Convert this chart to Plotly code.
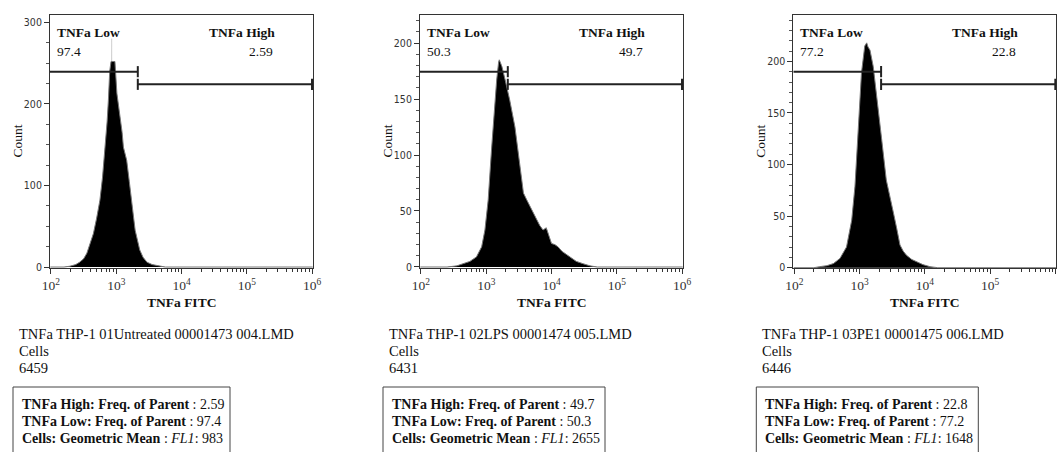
import numpy as np
import plotly.graph_objects as go

# ---------------- data ----------------
samples = ["TNFa THP-1 01Untreated 00001473 004.LMD",
           "TNFa THP-1 02LPS 00001474 005.LMD",
           "TNFa THP-1 03PE1 00001475 006.LMD"]
cell_counts = [6459, 6431, 6446]
tnfa_low = [97.4, 50.3, 77.2]
tnfa_high = [2.59, 49.7, 22.8]
geo_mean = [983, 2655, 1648]
gate_split = 2140          # TNFa Low / High boundary (FITC)
gate_max = 1.0e6

# histogram outlines: log10(FITC) positions and counts
logs1 = [1.99, 2.20, 2.29, 2.38, 2.44, 2.50, 2.55, 2.60, 2.65, 2.70, 2.75, 2.79, 2.83, 2.86,
         2.88, 2.90, 2.92, 2.95, 2.98, 3.01, 3.04, 3.06, 3.09, 3.11, 3.14, 3.16, 3.20, 3.24,
         3.27, 3.29, 3.33, 3.36, 3.41, 3.47, 3.55, 3.67, 3.75, 6.01]
counts1 = [0, 0, 1, 3, 6, 10, 17, 28, 41, 60, 82, 110, 147, 178,
           205, 240, 252, 252, 252, 213, 195, 188, 165, 147, 138, 131, 105, 74,
           58, 45, 30, 21, 12, 6, 3, 1, 0, 0]
spike1_logs = [2.905, 2.93, 2.955]
spike1_counts = [0, 280, 0]

logs2 = [1.99, 2.40, 2.55, 2.65, 2.75, 2.85, 2.93, 2.98, 3.03, 3.08, 3.12, 3.16, 3.19, 3.20,
         3.22, 3.24, 3.29, 3.36, 3.44, 3.49, 3.53, 3.57, 3.62, 3.67, 3.72, 3.77, 3.82, 3.87,
         3.92, 3.96, 4.00, 4.05, 4.10, 4.16, 4.23, 4.30, 4.38, 4.48, 4.59, 4.70, 6.01]
counts2 = [0, 0, 1, 3, 5, 9, 18, 33, 60, 104, 140, 167, 183, 185,
           182, 179, 167, 149, 125, 102, 82, 66, 60, 54, 48, 42, 37, 33,
           35, 28, 21, 20, 18, 14, 11, 8, 5, 3, 1, 0, 0]

logs3 = [1.99, 2.30, 2.39, 2.50, 2.60, 2.70, 2.80, 2.88, 2.93, 2.98, 3.03, 3.08, 3.11, 3.13,
         3.16, 3.21, 3.26, 3.34, 3.41, 3.47, 3.52, 3.57, 3.62, 3.67, 3.72, 3.80, 3.87, 3.97,
         4.08, 4.20, 6.01]
counts3 = [0, 0, 1, 2, 4, 9, 20, 46, 79, 131, 189, 215, 218, 214,
           211, 195, 169, 124, 85, 66, 53, 38, 22, 16, 12, 8, 6, 3,
           1, 0, 0]

y_ranges = [[-1.2, 309], [-0.9, 225], [-0.3, 245]]
y_dticks = [100, 50, 50]
y_minor = [25, 10, 10]
x_tick_vals = [1e2, 1e3, 1e4, 1e5, 1e6]
x_tick_text = ["10<sup>2</sup>", "10<sup>3</sup>", "10<sup>4</sup>", "10<sup>5</sup>", "10<sup>6</sup>"]
x_minor_vals = [k * 10 ** e for e in range(2, 6) for k in range(2, 10)]

hists = [(logs1, counts1), (logs2, counts2), (logs3, counts3)]

# ---------------- layout helpers ----------------
W, H = 1057, 452
SERIF = "Liberation Serif, Times New Roman, serif"
NARROW = "Liberation Sans Narrow, DejaVu Sans Condensed, Arial Narrow, sans-serif"
plot_left = [50, 420, 793.3]
plot_w = 263
plot_top, plot_bot = 15, 268

def px(x):
    return x / W

def py(y):
    return 1 - y / H

fig = go.Figure()
annotations = []
shapes = []

def note(x, y, text, size, xanchor="left", xref="paper", yref="paper", **kw):
    return dict(xref=xref, yref=yref, x=x, y=y, text=text, showarrow=False, xanchor=xanchor,
                yanchor="middle", font=dict(family=SERIF, size=size, color="#111111"), **kw)

for i in range(3):
    n = "" if i == 0 else str(i + 1)
    xa, ya = "x" + n, "y" + n
    lg, ct = hists[i]
    if i == 0:
        fig.add_trace(go.Scatter(x=10 ** np.array(spike1_logs), y=spike1_counts, mode="lines",
                                 fill="tozeroy", fillcolor="#c4c4c4", line=dict(color="#c4c4c4", width=0.5),
                                 xaxis=xa, yaxis=ya, showlegend=False, hoverinfo="skip"))
    fig.add_trace(go.Scatter(x=10 ** np.array(lg), y=ct, mode="lines", fill="tozeroy",
                             fillcolor="black", line=dict(color="#777777", width=1),
                             xaxis=xa, yaxis=ya, showlegend=False))

    # gates (drawn at fixed fractions of the plot height)
    y0, y1 = y_ranges[i]
    low_y = y0 + 0.776 * (y1 - y0)
    high_y = y0 + 0.726 * (y1 - y0)
    cap = 0.022 * (y1 - y0)
    gx = [10 ** 1.985, gate_split, None, gate_split, gate_split, None,
          gate_split, gate_max, None, gate_split, gate_split, None, gate_max, gate_max]
    gy = [low_y, low_y, None, low_y - cap, low_y + cap, None,
          high_y, high_y, None, high_y - cap, high_y + cap, None, high_y - cap, high_y + cap]
    fig.add_trace(go.Scatter(x=gx, y=gy, mode="lines", line=dict(color="#222222", width=2),
                             xaxis=xa, yaxis=ya, showlegend=False, hoverinfo="skip", cliponaxis=False))

    L = plot_left[i]
    fig.layout["xaxis" + n] = dict(
        type="log", range=[1.985, 6.015], domain=[px(L), px(L + plot_w)], anchor=ya, automargin=False,
        showline=True, linecolor="#333333", linewidth=1, mirror=True, showgrid=False, zeroline=False,
        ticks="outside", ticklen=5, tickcolor="#333333", tickvals=x_tick_vals, ticktext=x_tick_text,
        tickfont=dict(family=SERIF, size=13.5, color="#333333"),
        minor=dict(ticks="outside", ticklen=3, tickcolor="#333333", tickvals=x_minor_vals, showgrid=False))
    fig.layout["yaxis" + n] = dict(
        range=y_ranges[i], domain=[py(plot_bot), py(plot_top)], anchor=xa, automargin=False,
        showline=True, linecolor="#333333", linewidth=1, mirror=True, showgrid=False, zeroline=False,
        ticks="outside", ticklen=5, tickcolor="#333333", dtick=y_dticks[i], tick0=0,
        tickfont=dict(family=NARROW, size=10.5, color="#333333"),
        minor=dict(ticks="outside", ticklen=3, tickcolor="#555555", dtick=y_minor[i], showgrid=False))

    # axis titles
    annotations.append(note(px(L - 33), py(141.5), "Count", 13.5, xanchor="center", textangle=-90))
    annotations.append(note(px(L + plot_w / 2), py(302), "<b>TNFa FITC</b>", 13.5, xanchor="center"))
    # gate labels
    xd, yd = xa + " domain", ya + " domain"
    annotations += [
        note(0.019, 0.929, "<b>TNFa Low</b>", 13.5, xref=xd, yref=yd),
        note(0.019, 0.854, f"{tnfa_low[i]}", 13.5, xref=xd, yref=yd),
        note(0.863, 0.929, "<b>TNFa High</b>", 13.5, xanchor="right", xref=xd, yref=yd),
        note(0.856, 0.854, f"{tnfa_high[i]}", 13.5, xanchor="right", xref=xd, yref=yd),
    ]
    # sample info
    tx = L - 33
    for txt, yy in [(samples[i], 334), ("Cells", 351), (str(cell_counts[i]), 368)]:
        annotations.append(note(px(tx), py(yy), txt, 14.5))
    # stats box
    bx0, bx1 = L - 37, L + (180 if i == 0 else 185)
    shapes.append(dict(type="rect", xref="paper", yref="paper", x0=px(bx0), x1=px(bx1), y0=-0.1, y1=py(387),
                       line=dict(color="#444444", width=1)))
    lines = [f"<b>TNFa High: Freq. of Parent</b> : {tnfa_high[i]}",
             f"<b>TNFa Low: Freq. of Parent</b> : {tnfa_low[i]}",
             f"<b>Cells: Geometric Mean</b> : <i>FL1</i>: {geo_mean[i]}"]
    for txt, yy in zip(lines, [404, 421, 438]):
        annotations.append(note(px(bx0 + 7), py(yy), txt, 14))

fig.update_layout(template="none", width=W, height=H, margin=dict(l=0, r=0, t=0, b=0, autoexpand=False),
                  paper_bgcolor="white", plot_bgcolor="white", annotations=annotations, shapes=shapes,
                  showlegend=False)
fig.write_html("out.html", config={"displayModeBar": False},
               post_script="document.body.style.margin='0';document.body.style.overflow='hidden';")
